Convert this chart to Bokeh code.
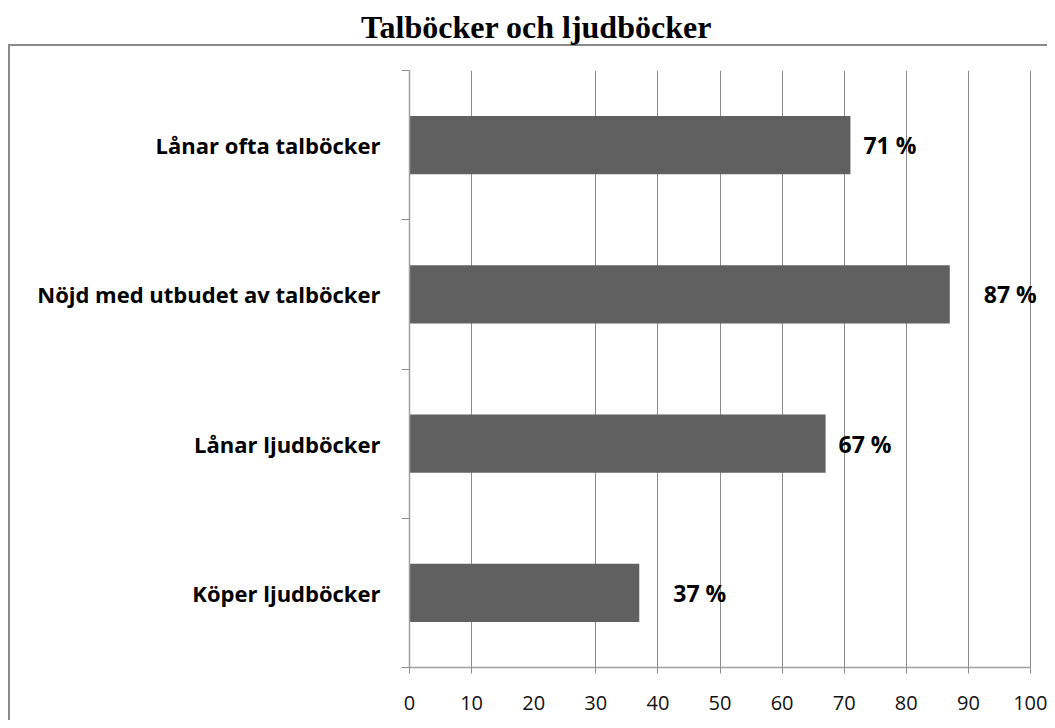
from bokeh.plotting import figure
from bokeh.models import (ColumnDataSource, Range1d, FixedTicker, LinearAxis)
from bokeh.core.properties import value
from bokeh.embed import file_html
from bokeh.resources import INLINE

# ---- data ----
categories = ["Lånar ofta talböcker", "Nöjd med utbudet av talböcker",
              "Lånar ljudböcker", "Köper ljudböcker"]
values = [71, 87, 67, 37]
x_tick_values = [0, 10, 20, 30, 40, 50, 60, 70, 80, 90, 100]
x_tick_labels = ["0", "10", "20", "30", "40", "50", "60", "70", "80", "90", "100"]
# value-label offsets (styling, as placed in the original)
label_offsets = [13, 34, 13, 34]

title_text = "Talböcker och ljudböcker"

n = len(categories)
positions = [n - i - 0.5 for i in range(n)]
boundaries = [float(i) for i in range(n + 1)]

src = ColumnDataSource(dict(
    y=positions, v=values, cat=categories,
    txt=[f"{v} %" for v in values], off=label_offsets))

W, H = 1047, 720
FL, FT, FB = 409, 70, 667           # frame left / top / bottom (px)
px_per_unit = (1030 - FL) / 100.0
x_end = 100 + (W - 1030) / px_per_unit

p = figure(width=W, height=H, x_range=Range1d(0, x_end), y_range=Range1d(0, n),
           output_backend="svg", toolbar_location=None,
           min_border_left=FL, min_border_right=0,
           min_border_top=FT, min_border_bottom=H - FB)
p.outline_line_color = None
p.background_fill_color = "white"
p.border_fill_color = None

border_col = "#8a8a8a"
# outer chart border (top and left edges) drawn behind the transparent canvas border area
p.styles = {
    "background-color": "white",
    "background-image": f"linear-gradient({border_col}, {border_col}), "
                        f"linear-gradient({border_col}, {border_col})",
    "background-repeat": "no-repeat, no-repeat",
    "background-position": "8px 44px, 8px 44px",
    "background-size": "100% 2px, 2px 100%",
}

grid_col = "#8c8c8c"

# bars
p.hbar(y="y", left=0, right="v", height=0.39, source=src,
       fill_color="#606060", line_color=None)

# value labels
p.text(x="v", y="y", text="txt", x_offset="off", source=src,
       text_baseline="middle", text_align="left",
       text_font=value("Open Sans"), text_font_style="bold",
       text_font_size="23px", text_color="black")

# x axis
grid_ticks = [t for t in x_tick_values if t != 20]
p.xaxis.bounds = (0, 100)
p.xaxis.ticker = FixedTicker(ticks=x_tick_values, minor_ticks=grid_ticks)
p.xaxis.major_label_overrides = {t: l for t, l in zip(x_tick_values, x_tick_labels)}
p.xaxis.major_tick_out = 0
p.xaxis.major_tick_in = 0
p.xaxis.minor_tick_out = 6
p.xaxis.minor_tick_in = 0
p.xaxis.minor_tick_line_color = grid_col
p.xaxis.axis_line_color = "#a0a0a0"
p.xaxis.axis_line_width = 1.5
p.xaxis.major_label_text_font = "Open Sans"
p.xaxis.major_label_text_font_size = "20px"
p.xaxis.major_label_text_color = "#111111"
p.xaxis.major_label_standoff = 22

# y axis
p.yaxis.ticker = FixedTicker(ticks=positions, minor_ticks=boundaries)
p.yaxis.major_label_overrides = {y: c for y, c in zip(positions, categories)}
p.yaxis.major_tick_out = 0
p.yaxis.major_tick_in = 0
p.yaxis.minor_tick_out = 8
p.yaxis.minor_tick_in = 0
p.yaxis.minor_tick_line_color = grid_col
p.yaxis.axis_line_color = "#a0a0a0"
p.yaxis.axis_line_width = 1.5
p.yaxis.major_label_text_font = "Open Sans"
p.yaxis.major_label_text_font_style = "bold"
p.yaxis.major_label_text_font_size = "22px"
p.yaxis.major_label_text_color = "black"
p.yaxis.major_label_standoff = 21

# grid
p.xgrid.ticker = FixedTicker(ticks=grid_ticks)
p.xgrid.grid_line_color = grid_col
p.xgrid.grid_line_width = 1
p.ygrid.grid_line_color = None

# chart title, drawn as the label of an otherwise invisible axis above the plot;
# trailing no-break spaces shift the centred label left over the chart's centre
title_pad = "\u00a0" * 48
title_axis = LinearAxis(ticker=FixedTicker(ticks=[]),
                        axis_line_color=None,
                        major_tick_line_color=None, minor_tick_line_color=None,
                        major_tick_out=0, major_tick_in=0,
                        minor_tick_out=0, minor_tick_in=0,
                        major_label_text_font_size="0px",
                        axis_label=title_text + title_pad,
                        axis_label_text_font="Liberation Serif",
                        axis_label_text_font_style="bold",
                        axis_label_text_font_size="32px",
                        axis_label_text_color="black",
                        axis_label_standoff=26)
p.add_layout(title_axis, "above")

open("out.html", "w").write(file_html(p, INLINE))
